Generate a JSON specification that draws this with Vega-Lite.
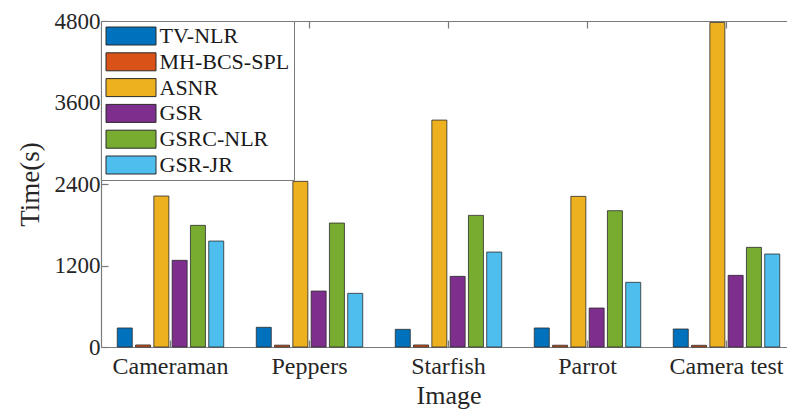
{
  "$schema": "https://vega.github.io/schema/vega-lite/v6.json",
  "width": 686,
  "height": 326,
  "autosize": {"type": "none"},
  "padding": {"left": 101, "top": 21, "right": 0, "bottom": 64},
  "background": "white",
  "config": {
    "view": {"stroke": null},
    "font": "Liberation Serif",
    "axis": {
      "labelFont": "Liberation Serif",
      "titleFont": "Liberation Serif",
      "labelColor": "#262626",
      "titleColor": "#262626",
      "domainColor": "#7a7a7a",
      "tickColor": "#7a7a7a",
      "domainWidth": 1.2,
      "tickWidth": 1.2,
      "grid": false
    }
  },
  "data": {
    "values": [
      {"image": "Cameraman", "method": "TV-NLR", "time": 280},
      {"image": "Cameraman", "method": "MH-BCS-SPL", "time": 30},
      {"image": "Cameraman", "method": "ASNR", "time": 2223},
      {"image": "Cameraman", "method": "GSR", "time": 1276},
      {"image": "Cameraman", "method": "GSRC-NLR", "time": 1791},
      {"image": "Cameraman", "method": "GSR-JR", "time": 1560},
      {"image": "Peppers", "method": "TV-NLR", "time": 290},
      {"image": "Peppers", "method": "MH-BCS-SPL", "time": 27},
      {"image": "Peppers", "method": "ASNR", "time": 2439},
      {"image": "Peppers", "method": "GSR", "time": 824},
      {"image": "Peppers", "method": "GSRC-NLR", "time": 1825},
      {"image": "Peppers", "method": "GSR-JR", "time": 790},
      {"image": "Starfish", "method": "TV-NLR", "time": 260},
      {"image": "Starfish", "method": "MH-BCS-SPL", "time": 30},
      {"image": "Starfish", "method": "ASNR", "time": 3341},
      {"image": "Starfish", "method": "GSR", "time": 1040},
      {"image": "Starfish", "method": "GSRC-NLR", "time": 1938},
      {"image": "Starfish", "method": "GSR-JR", "time": 1398},
      {"image": "Parrot", "method": "TV-NLR", "time": 280},
      {"image": "Parrot", "method": "MH-BCS-SPL", "time": 26},
      {"image": "Parrot", "method": "ASNR", "time": 2218},
      {"image": "Parrot", "method": "GSR", "time": 574},
      {"image": "Parrot", "method": "GSRC-NLR", "time": 2007},
      {"image": "Parrot", "method": "GSR-JR", "time": 952},
      {"image": "Camera test", "method": "TV-NLR", "time": 265},
      {"image": "Camera test", "method": "MH-BCS-SPL", "time": 25},
      {"image": "Camera test", "method": "ASNR", "time": 4779},
      {"image": "Camera test", "method": "GSR", "time": 1055},
      {"image": "Camera test", "method": "GSRC-NLR", "time": 1467},
      {"image": "Camera test", "method": "GSR-JR", "time": 1369}
    ]
  },
  "layer": [
    {
      "mark": {"type": "bar", "stroke": "#2b2b2b", "strokeWidth": 0.8},
      "encoding": {
        "x": {
          "field": "image",
          "type": "nominal",
          "sort": ["Cameraman", "Peppers", "Starfish", "Parrot", "Camera test"],
          "scale": {"range": [0, 695], "paddingInner": 0, "paddingOuter": 0},
          "axis": {
            "orient": "bottom",
            "title": "Image",
            "titleFontSize": 26,
            "titleFontWeight": "normal",
            "titlePadding": 4,
            "labelFontSize": 24,
            "labelAngle": 0,
            "labelPadding": 14,
            "tickSize": -7
          }
        },
        "xOffset": {
          "field": "method",
          "type": "nominal",
          "sort": ["TV-NLR", "MH-BCS-SPL", "ASNR", "GSR", "GSRC-NLR", "GSR-JR"],
          "scale": {"paddingInner": 0.18, "paddingOuter": 0.89}
        },
        "y": {
          "field": "time",
          "type": "quantitative",
          "scale": {"domain": [0, 4800], "nice": false},
          "axis": {
            "title": "Time(s)",
            "titleFontSize": 27,
            "titleFontWeight": "normal",
            "titlePadding": 10,
            "labelFontSize": 23,
            "labelPadding": 8,
            "format": "d",
            "values": [0, 1200, 2400, 3600, 4800],
            "tickSize": -7
          }
        },
        "color": {
          "field": "method",
          "type": "nominal",
          "sort": ["TV-NLR", "MH-BCS-SPL", "ASNR", "GSR", "GSRC-NLR", "GSR-JR"],
          "scale": {
            "domain": ["TV-NLR", "MH-BCS-SPL", "ASNR", "GSR", "GSRC-NLR", "GSR-JR"],
            "range": ["#0072BD", "#D95319", "#EDB120", "#7E2F8E", "#77AC30", "#4DBEEE"]
          },
          "legend": {
            "orient": "none",
            "legendX": 0,
            "legendY": 0,
            "title": null,
            "symbolType": "M-2.5,-0.9H2.5V0.9H-2.5Z",
            "symbolSize": 400,
            "symbolOffset": 15,
            "symbolStrokeColor": "#2b2b2b",
            "symbolStrokeWidth": 1,
            "symbolOpacity": 1,
            "labelFont": "Liberation Serif",
            "labelFontSize": 22,
            "labelColor": "#1a1a1a",
            "labelOffset": 17.5,
            "rowPadding": 3.8,
            "padding": 4,
            "strokeColor": "#7a7a7a",
            "fillColor": "white"
          }
        }
      }
    },
    {
      "mark": {"type": "bar", "opacity": 0},
      "encoding": {
        "x": {
          "field": "image",
          "type": "nominal",
          "sort": ["Cameraman", "Peppers", "Starfish", "Parrot", "Camera test"],
          "axis": {
            "orient": "top",
            "title": null,
            "labels": false,
            "tickSize": -7
          }
        },
        "y": {"field": "time", "type": "quantitative", "axis": null}
      }
    }
  ],
  "resolve": {"axis": {"x": "independent", "y": "independent"}}
}
